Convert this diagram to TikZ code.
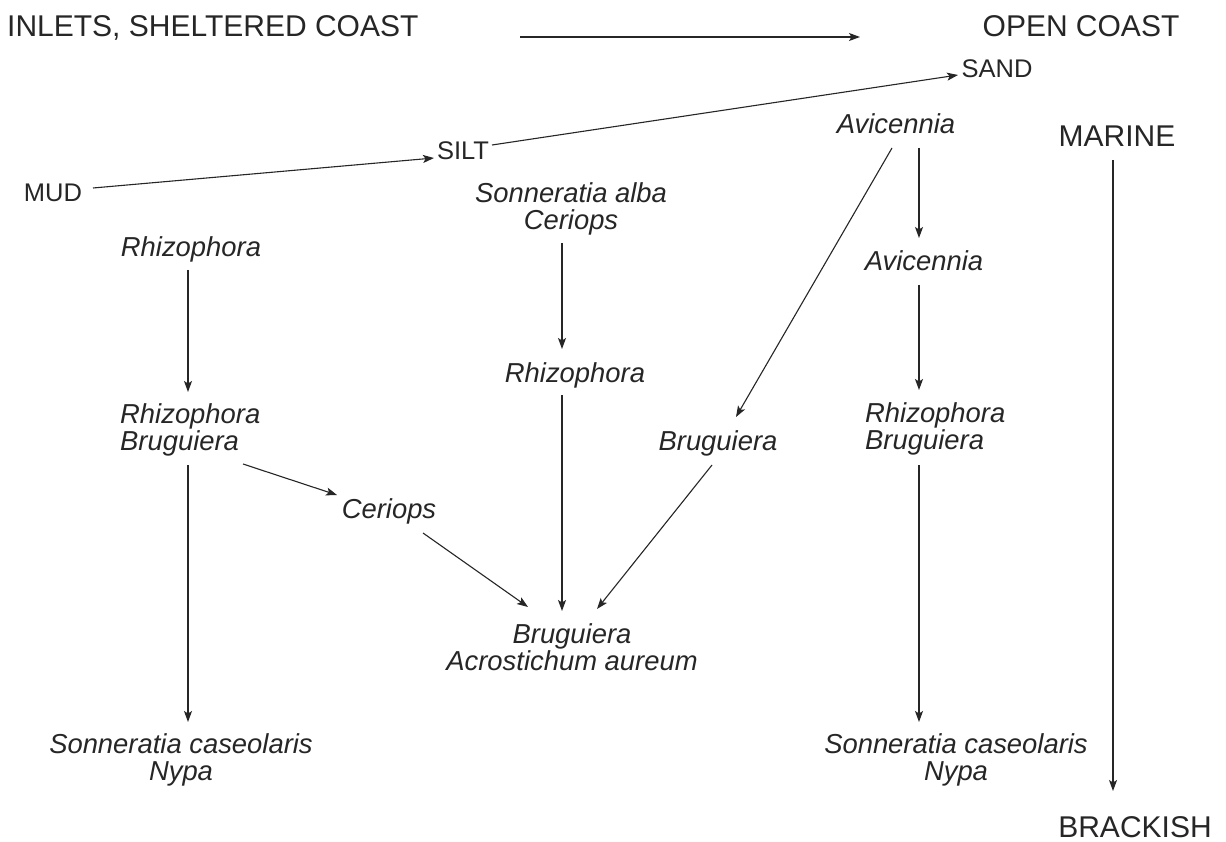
\documentclass[tikz,border=0pt]{standalone}
\usepackage{fontspec}
\setmainfont{Liberation Sans}
\usetikzlibrary{arrows.meta,calc}
\tikzset{
  lbl/.style={inner sep=0pt, text=black!85},
  bigtxt/.style={lbl, font=\fontsize{30}{32}\selectfont},
  soil/.style={lbl, font=\fontsize{25.5}{27}\selectfont},
  spec/.style={lbl, font=\fontsize{27.4}{26.8}\selectfont\itshape},
  arr/.style={draw=black!85, line width=1.1pt, -{Stealth[length=11pt,width=8pt,inset=2.5pt]}}
}
\begin{document}
\begin{tikzpicture}[x=1pt,y=-1pt]
\useasboundingbox[fill=white] (0,0) rectangle (1226,842);
% headings
\node[bigtxt, anchor=base west] (inlets) at (7,37) {INLETS, SHELTERED COAST};
\node[bigtxt, anchor=base] (open) at (1081,37) {OPEN COAST};
\node[bigtxt, anchor=base] (marine) at (1117,147) {MARINE};
\node[bigtxt, anchor=base] (brackish) at (1135,837) {BRACKISH};
\coordinate (ta) at (520,37);
\coordinate (tb) at (860,37);
% substrate
\node[soil, anchor=base] (sand) at (997,78) {SAND};
\node[soil, anchor=base] (silt) at (463,160) {SILT};
\node[soil, anchor=base] (mud) at (53,202) {MUD};
% species
\node[spec, anchor=base] (avi1) at (896,134) {Avicennia};
\node[spec, anchor=base] (avi2) at (924,271) {Avicennia};
\node[spec, anchor=north, align=center] (sac) at (571,182.4) {Sonneratia alba\\Ceriops};
\node[spec, anchor=base] (rhm) at (575,382) {Rhizophora};
\node[spec, anchor=north, align=center] (ba) at (572,623.4) {Bruguiera\\Acrostichum aureum};
\node[spec, anchor=base] (bru) at (718,450) {Bruguiera};
\node[spec, anchor=base] (rhl) at (191,257) {Rhizophora};
\node[spec, anchor=north west, align=left] (rbl) at (120,403.4) {Rhizophora\\Bruguiera};
\node[spec, anchor=base] (cer) at (389,518) {Ceriops};
\node[spec, anchor=north, align=center] (snl) at (181,733.4) {Sonneratia caseolaris\\Nypa};
\node[spec, anchor=north west, align=left] (rbr) at (865,402.4) {Rhizophora\\Bruguiera};
\node[spec, anchor=north, align=center] (snr) at (956,733.4) {Sonneratia caseolaris\\Nypa};
% connectors
\draw[arr] (ta) -- (tb);
\draw[arr] ($(mud.base)+(40,-14)$) -- ($(silt.base)+(-29,-2)$);
\draw[arr] ($(silt.base)+(29,-15)$) -- ($(sand.base)+(-39,-3)$);
\draw[arr] ($(rhl.base)+(-3,13)$) -- ($(rbl.north west)+(68,-11.4)$);
\draw[arr] ($(rbl.north west)+(68,61.6)$) -- ($(snl.north)+(7,-11.4)$);
\draw[arr] ($(rbl.north west)+(123,60.6)$) -- ($(cer.base)+(-52,-23)$);
\draw[arr] ($(cer.base)+(34,15)$) -- ($(ba.north)+(-44,-16.4)$);
\draw[arr] ($(sac.north)+(-9,60.6)$) -- ($(rhm.base)+(-13,-33)$);
\draw[arr] ($(rhm.base)+(-13,13)$) -- ($(ba.north)+(-10,-12.4)$);
\draw[arr] ($(bru.base)+(-6,15)$) -- ($(ba.north)+(25,-14.4)$);
\draw[arr] ($(avi1.base)+(-4,14)$) -- ($(bru.base)+(18,-33)$);
\draw[arr] ($(avi1.base)+(23,14)$) -- ($(avi2.base)+(-5,-33)$);
\draw[arr] ($(avi2.base)+(-5,14)$) -- ($(rbr.north west)+(54,-12.4)$);
\draw[arr] ($(rbr.north west)+(54,62.6)$) -- ($(snr.north)+(-37,-11.4)$);
\draw[arr] ($(marine.base)+(-4,13)$) -- ($(brackish.base)+(-22,-46)$);
\end{tikzpicture}
\end{document}
